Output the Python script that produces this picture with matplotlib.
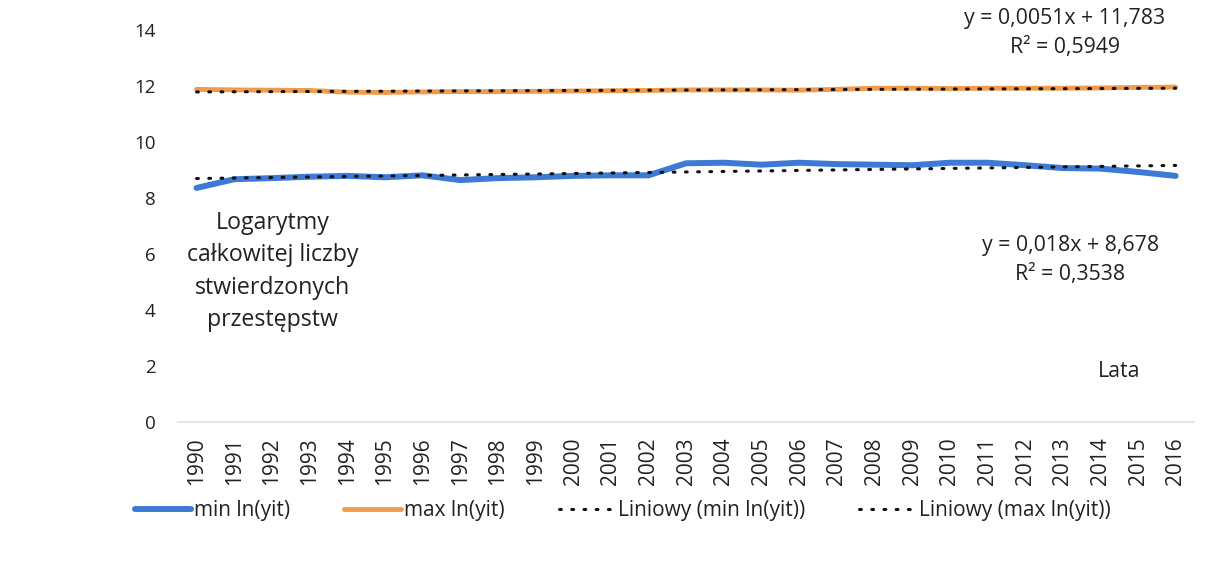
import numpy as np
import matplotlib.pyplot as plt

plt.rcParams['font.family'] = ['Open Sans', 'DejaVu Sans']

# dane
lata = list(range(1990, 2017))
min_ln = [8.36, 8.67, 8.71, 8.76, 8.79, 8.74, 8.81, 8.64, 8.71, 8.74,
          8.79, 8.81, 8.81, 9.24, 9.26, 9.19, 9.26, 9.21, 9.19, 9.17,
          9.26, 9.26, 9.17, 9.07, 9.05, 8.93, 8.79]
max_ln = [11.88, 11.86, 11.85, 11.84, 11.78, 11.77, 11.79, 11.80, 11.80, 11.81,
          11.82, 11.83, 11.84, 11.86, 11.86, 11.86, 11.85, 11.88, 11.92, 11.92,
          11.91, 11.92, 11.92, 11.92, 11.93, 11.95, 11.96]

# linie trendu (z równań na wykresie)
trend_min = (0.018, 8.678)
trend_max = (0.0051, 11.783)

x = np.array(lata)
t = np.arange(1, len(lata) + 1)

fig = plt.figure(figsize=(12.09, 5.66), dpi=100)
ax = fig.add_axes([0.147, 0.2544, 0.841, 0.6926])

ax.plot(x, min_ln, color='#3c7ad6', lw=4.3, solid_capstyle='round', label='min ln(yit)')
ax.plot(x, max_ln, color='#f09a4c', lw=3.5, solid_capstyle='round', label='max ln(yit)')
ax.plot(x, trend_min[0] * t + trend_min[1], color='#111111', lw=2.2,
        linestyle=(0, (0.6, 3.4)), dash_capstyle='round', label='Liniowy (min ln(yit))')
ax.plot(x, trend_max[0] * t + trend_max[1], color='#111111', lw=2.2,
        linestyle=(0, (0.6, 3.4)), dash_capstyle='round', label='Liniowy (max ln(yit))')

ax.set_xlim(1989.5, 2016.5)
ax.set_ylim(0, 14)
ax.set_xticks(lata)
ax.set_xticklabels([str(r) for r in lata], rotation=90)
ax.set_yticks(range(0, 15, 2))
ax.tick_params(length=0, colors='#222222')
ax.tick_params(axis='x', labelsize=15, pad=11)
ax.tick_params(axis='y', labelsize=13.5, pad=16)
for s in ['top', 'right', 'left']:
    ax.spines[s].set_visible(False)
ax.spines['bottom'].set_color('#d6e4e8')
ax.spines['bottom'].set_linewidth(1.2)

ax.text(1992.02, 5.38, 'Logarytmy\ncałkowitej liczby\nstwierdzonych\nprzestępstw',
        ha='center', va='center', fontsize=16.7, color='#222222', linespacing=1.46)
ax.text(2013.05, 13.88, 'y = 0,0051x + 11,783\nR² = 0,5949',
        ha='center', va='center', fontsize=15.3, color='#222222', linespacing=1.5)
ax.text(2013.2, 5.79, 'y = 0,018x + 8,678\nR² = 0,3538',
        ha='center', va='center', fontsize=15.3, color='#222222', linespacing=1.5)
ax.text(2014.5, 1.79, 'Lata', ha='center', va='center', fontsize=15.3, color='#222222')

fig.legend(loc='center', bbox_to_anchor=(0.515, 0.098), ncol=4, frameon=False,
           fontsize=15, handlelength=2.7, handletextpad=0.15, columnspacing=2.6,
           labelcolor='#222222')

fig.savefig('out.png', dpi=100)
